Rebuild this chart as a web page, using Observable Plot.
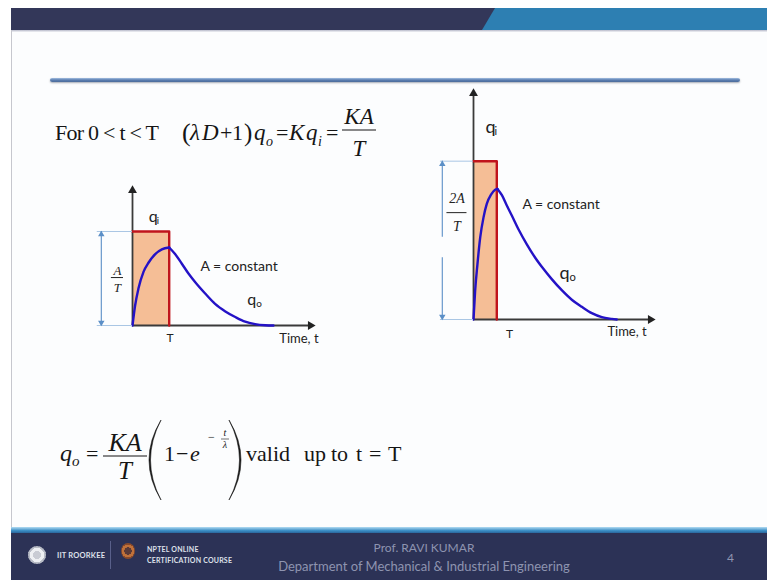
<!DOCTYPE html>
<html>
<head>
<meta charset="utf-8">
<script src="https://cdn.jsdelivr.net/npm/d3@7"></script>
<script src="https://cdn.jsdelivr.net/npm/@observablehq/plot@0.6"></script>
<style>
  html, body { margin: 0; padding: 0; background: #ffffff; }
  #slide { position: relative; width: 767px; height: 580px; overflow: hidden; background: #ffffff; font-family: Lato, "Open Sans", sans-serif; }
  .sheet { position: absolute; left: 11px; top: 8px; width: 756px; height: 572px; background: #fcfdfe; border-left: 1px solid #c6c7ce; box-sizing: border-box; }
  .hdr { position: absolute; left: 11px; top: 8px; width: 756px; height: 22px; background: #333759; }
  .hdr-blue { position: absolute; left: 482px; top: 8px; width: 285px; height: 22px; background: #2d7fb2; clip-path: polygon(13px 0, 100% 0, 100% 100%, 0 100%); }
  .hdr-edge { position: absolute; left: 12px; top: 30px; width: 755px; height: 2px; background: linear-gradient(#b7b9c9, #f2f3f6); }
  .rule { position: absolute; left: 50px; top: 78px; width: 690px; height: 4px; border-radius: 2px;
          background: linear-gradient(#a3bfe0, #5b7eb1 50%, #4b6b9a); box-shadow: 0 1px 2px rgba(60, 70, 90, .45); }
  .ftr-line { position: absolute; left: 11px; top: 527px; width: 756px; height: 6px; background: linear-gradient(#b3dcf3, #3a8dc5 60%, #2a679d); }
  .ftr { position: absolute; left: 11px; top: 533px; width: 756px; height: 47px; background: #2c3256; }
  .ftxt { position: absolute; color: #8e94b0; white-space: nowrap; }
  .logo-iit { position: absolute; left: 28px; top: 546px; width: 18px; height: 18px; border-radius: 50%;
              background: radial-gradient(circle, #c9ccd4 0 30%, #eef0f3 31% 55%, #b8bcc6 56% 68%, #f2f3f5 69%); }
  .logo-nptel { position: absolute; left: 121px; top: 543px; width: 14px; height: 16px; border-radius: 50%;
                background: radial-gradient(circle, #5a3a38 0 35%, #c0713a 36% 60%, #8a4a2a 61% 75%, transparent 76%); }
  .sep { position: absolute; left: 110px; top: 541px; width: 1px; height: 28px; background: #59608a; }
  .small-caps { font-weight: 700; font-size: 7px; color: #dfe1ea; letter-spacing: .2px; }
  #eqs { position: absolute; left: 0; top: 0; }
  .chart { position: absolute; }
</style>
</head>
<body>
<div id="slide">
  <div class="sheet"></div>
  <div class="hdr"></div>
  <div class="hdr-blue"></div>
  <div class="hdr-edge"></div>
  <div class="rule"></div>

  <svg id="eqs" width="767" height="580" font-family="Liberation Serif, 'Times New Roman', serif" fill="#151515">
    <!-- For 0 < t < T   (λD + 1) q_o = K q_i = KA / T -->
    <text x="55" y="140" font-size="22" textLength="104" lengthAdjust="spacing">For 0 &lt; t &lt; T</text>
    <text x="182" y="141" font-size="26">(</text>
    <text x="190" y="140" font-size="23" font-style="italic">λ</text>
    <text x="202" y="140" font-size="23" font-style="italic">D</text>
    <text x="220" y="140" font-size="22">+</text>
    <text x="232" y="140" font-size="22">1</text>
    <text x="244" y="141" font-size="25">)</text>
    <text x="254" y="140" font-size="23" font-style="italic">q</text>
    <text x="266" y="146" font-size="14" font-style="italic">o</text>
    <text x="276" y="140" font-size="22">=</text>
    <text x="289" y="140" font-size="23" font-style="italic">K</text>
    <text x="306" y="140" font-size="23" font-style="italic">q</text>
    <text x="318" y="146" font-size="14" font-style="italic">i</text>
    <text x="326" y="140" font-size="22">=</text>
    <text x="359" y="124" font-size="23" font-style="italic" text-anchor="middle">KA</text>
    <line x1="342" x2="376" y1="130" y2="130" stroke="#151515" stroke-width="1.2"/>
    <text x="359" y="156" font-size="23" font-style="italic" text-anchor="middle">T</text>

    <!-- q_o = KA/T (1 − e^(−t/λ)) valid up to t = T -->
    <text x="60" y="461" font-size="24" font-style="italic">q</text>
    <text x="72" y="466" font-size="15" font-style="italic">o</text>
    <text x="86" y="461" font-size="22">=</text>
    <text x="125" y="451" font-size="26" font-style="italic" text-anchor="middle">KA</text>
    <line x1="103" x2="147" y1="456" y2="456" stroke="#151515" stroke-width="1.2"/>
    <text x="125" y="479" font-size="25" font-style="italic" text-anchor="middle">T</text>
    <path d="M161 420 Q137 460 161 500 Q140 460 161 420 Z" stroke="#151515" stroke-width="0.6"/>
    <text x="164" y="461" font-size="22">1</text>
    <text x="176" y="461" font-size="22">−</text>
    <text x="190" y="461" font-size="22" font-style="italic">e</text>
    <text x="208" y="441" font-size="12">−</text>
    <text x="225" y="436" font-size="10" font-style="italic" text-anchor="middle">t</text>
    <line x1="221" x2="229" y1="439" y2="439" stroke="#151515" stroke-width="0.6"/>
    <text x="225" y="448" font-size="10" font-style="italic" text-anchor="middle">λ</text>
    <path d="M229 420 Q253 460 229 500 Q250 460 229 420 Z" stroke="#151515" stroke-width="0.6"/>
    <text x="246" y="461" font-size="22">valid</text>
    <text x="304" y="461" font-size="22">up</text>
    <text x="331" y="461" font-size="22">to</text>
    <text x="356" y="461" font-size="22">t</text>
    <text x="369" y="461" font-size="22">=</text>
    <text x="388" y="461" font-size="22">T</text>
  </svg>

  <div id="chartA" class="chart" style="left:88px; top:185px;"></div>
  <div id="chartB" class="chart" style="left:425px; top:85px;"></div>

  <div class="ftr-line"></div>
  <div class="ftr"></div>
  <div class="logo-iit"></div>
  <div class="ftxt small-caps" style="left:57px; top:551px; font-size:7.5px;">IIT ROORKEE</div>
  <div class="sep"></div>
  <div class="logo-nptel"></div>
  <div class="ftxt small-caps" style="left:147px; top:545px;">NPTEL ONLINE</div>
  <div class="ftxt small-caps" style="left:147px; top:556px;">CERTIFICATION COURSE</div>
  <div class="ftxt" style="left:424px; top:540px; transform:translateX(-50%); font-size:12px;">Prof. RAVI KUMAR</div>
  <div class="ftxt" style="left:424px; top:558px; transform:translateX(-50%); font-size:13px;">Department of Mechanical &amp; Industrial Engineering</div>
  <div class="ftxt" style="left:727px; top:550px; font-size:12px;">4</div>
</div>

<script>
// Time t in units of the pulse width T, flow q in units of A/T.

// Narrow pulse of height A/T lasting T
const pulseA = { width: 1, height: 1 };
// Output q_o: rise while the input is on, then decay
const riseA = [[0, 0], [0.07, 0.21], [0.16, 0.39], [0.30, 0.57], [0.44, 0.67], [0.62, 0.76], [0.80, 0.81], [1.0, 0.83]];
const decayA = [[1.0, 0.83], [1.16, 0.76], [1.34, 0.66], [1.53, 0.55], [1.71, 0.46], [1.98, 0.34], [2.25, 0.23],
                [2.53, 0.15], [2.80, 0.09], [3.07, 0.04], [3.34, 0.015], [3.62, 0.003], [3.84, 0]];

// Taller pulse of height 2A/T
const pulseB = { width: 1, height: 2 };
const riseB = [[0, 0], [0.07, 0.36], [0.17, 0.70], [0.29, 1.04], [0.43, 1.29], [0.57, 1.46], [0.76, 1.58], [0.93, 1.64], [1.03, 1.65]];
const decayB = [[1.03, 1.65], [1.22, 1.57], [1.43, 1.44], [1.65, 1.31], [1.93, 1.14], [2.29, 0.95], [2.65, 0.78], [3.0, 0.64],
                [3.36, 0.51], [3.79, 0.37], [4.22, 0.25], [4.65, 0.16], [5.08, 0.08], [5.51, 0.03], [5.94, 0.008], [6.15, 0]];

// Text labels
const inputSymbol = ["q", "i"];
const outputSymbol = ["q", "o"];
const areaNote = "A = constant";
const timeLabel = "Time, t";
const widthLabel = "T";
const heightLabelA = ["A", "T"];
const heightLabelB = ["2A", "T"];

const toPoints = (pairs, part) => pairs.map(([t, q]) => ({ t, q, part }));

const INK = "#3a3a3a";
const RED = "#c0141c";
const BLUE = "#2412c6";
const DIM = "#5b8fc7";
const DIM_LIGHT = "#a9c6e4";
const SANS = "Lato, 'Open Sans', sans-serif";
const SERIF = "'Liberation Serif', 'Times New Roman', serif";

function pulseChart(cfg) {
  const { pulse, rise, decay, tMax, qMax } = cfg;
  const curve = [...toPoints(rise, "rise"), ...toPoints(decay, "decay")];
  const edge = [{ t: 0, q: pulse.height }, { t: pulse.width, q: pulse.height }, { t: pulse.width, q: 0 }];
  const l = cfg.labels;
  return Plot.plot({
    width: cfg.width, height: cfg.height,
    marginLeft: cfg.margin[3], marginRight: cfg.margin[1], marginTop: cfg.margin[0], marginBottom: cfg.margin[2],
    x: { domain: [0, tMax], axis: null },
    y: { domain: [0, qMax], axis: null },
    style: { background: "transparent", overflow: "visible" },
    marks: [
      // input pulse
      Plot.rect([pulse], { x1: 0, x2: "width", y1: 0, y2: "height", fill: "#f5be96" }),
      // axes with arrowheads
      Plot.ruleY([0], { x1: 0, x2: tMax, stroke: INK, strokeWidth: 1.8 }),
      Plot.ruleX([0], { y1: 0, y2: qMax, stroke: INK, strokeWidth: 1.8 }),
      Plot.dot([0], { x: tMax, y: 0, symbol: "triangle", rotate: 90, r: 3.3, fill: "#222", stroke: "none" }),
      Plot.dot([0], { x: 0, y: qMax, symbol: "triangle", rotate: 0, r: 3.3, fill: "#222", stroke: "none" }),
      // pulse outline
      Plot.line(edge, { x: "t", y: "q", stroke: RED, strokeWidth: 2.4 }),
      // response
      Plot.line(curve, { x: "t", y: "q", z: "part", curve: "monotone-x", stroke: BLUE, strokeWidth: 2.4 }),
      // height dimension
      Plot.ruleY([0, pulse.height], { x1: cfg.dim.x0, x2: 0, stroke: DIM_LIGHT, strokeWidth: 1 }),
      Plot.ruleX(cfg.dim.segments, { x: cfg.dim.x, y1: "from", y2: "to", stroke: DIM, strokeWidth: 1.1 }),
      Plot.dot([0], { x: cfg.dim.x, y: pulse.height, symbol: "triangle", rotate: 0, r: 2.4, dy: 3, fill: DIM, stroke: "none" }),
      Plot.dot([0], { x: cfg.dim.x, y: 0, symbol: "triangle", rotate: 180, r: 2.4, dy: -3, fill: DIM, stroke: "none" }),
      Plot.text([cfg.heightLabel[0]], { x: l.frac.t, y: l.frac.top, fontFamily: SERIF, fontStyle: "italic", fontSize: l.frac.size, fill: "#222" }),
      Plot.ruleY([0], { y: l.frac.bar, x1: l.frac.t - l.frac.half, x2: l.frac.t + l.frac.half, stroke: "#222", strokeWidth: 1 }),
      Plot.text([cfg.heightLabel[1]], { x: l.frac.t, y: l.frac.bottom, fontFamily: SERIF, fontStyle: "italic", fontSize: l.frac.size, fill: "#222" }),
      // annotations
      Plot.text([inputSymbol[0]], { x: l.qi[0], y: l.qi[1], fontFamily: SANS, fontSize: l.qSize, textAnchor: "start", fill: "#222" }),
      Plot.text([inputSymbol[1]], { x: l.qi[0], y: l.qi[1], dx: l.subDx - 1, dy: 4, fontFamily: SANS, fontSize: l.qSize * 0.6, textAnchor: "start", fill: "#222" }),
      Plot.text([outputSymbol[0]], { x: l.qo[0], y: l.qo[1], fontFamily: SANS, fontSize: l.qSize, textAnchor: "start", fill: "#222" }),
      Plot.text([outputSymbol[1]], { x: l.qo[0], y: l.qo[1], dx: l.subDx, dy: 4, fontFamily: SANS, fontSize: l.qSize * 0.62, textAnchor: "start", fill: "#222" }),
      Plot.text([areaNote], { x: l.note[0], y: l.note[1], fontFamily: SANS, fontSize: 14, textAnchor: "start", fill: "#222" }),
      Plot.text([widthLabel], { x: l.T[0], y: l.T[1], fontFamily: SANS, fontSize: 12, fill: "#222" }),
      Plot.text([timeLabel], { x: l.time[0], y: l.time[1], fontFamily: SANS, fontSize: 13, textAnchor: "start", fill: "#222" })
    ]
  });
}

document.getElementById("chartA").append(pulseChart({
  pulse: pulseA, rise: riseA, decay: decayA,
  tMax: 4.85, qMax: 1.436,
  width: 250, height: 165, margin: [5, 28, 25, 44],
  heightLabel: heightLabelA,
  dim: { x: -0.85, x0: -0.96, segments: [{ from: 0, to: 1 }] },
  labels: {
    frac: { t: -0.41, top: 0.58, bar: 0.51, bottom: 0.40, half: 0.165, size: 13 },
    qi: [0.44, 1.16], qo: [3.13, 0.27], qSize: 16, subDx: 9,
    note: [1.85, 0.63], T: [1.02, -0.13], time: [4.0, -0.14]
  }
}));

document.getElementById("chartB").append(pulseChart({
  pulse: pulseB, rise: riseB, decay: decayB,
  tMax: 7.6, qMax: 2.855,
  width: 240, height: 260, margin: [8, 15, 26, 48],
  heightLabel: heightLabelB,
  dim: { x: -1.34, x0: -1.42, segments: [{ from: 1.04, to: 2 }, { from: 0, to: 0.78 }] },
  labels: {
    frac: { t: -0.71, top: 1.53, bar: 1.35, bottom: 1.175, half: 0.43, size: 14 },
    qi: [0.52, 2.43], qo: [3.69, 0.58], qSize: 18, subDx: 10,
    note: [2.10, 1.45], T: [1.55, -0.18], time: [5.75, -0.15]
  }
}));
</script>
</body>
</html>
